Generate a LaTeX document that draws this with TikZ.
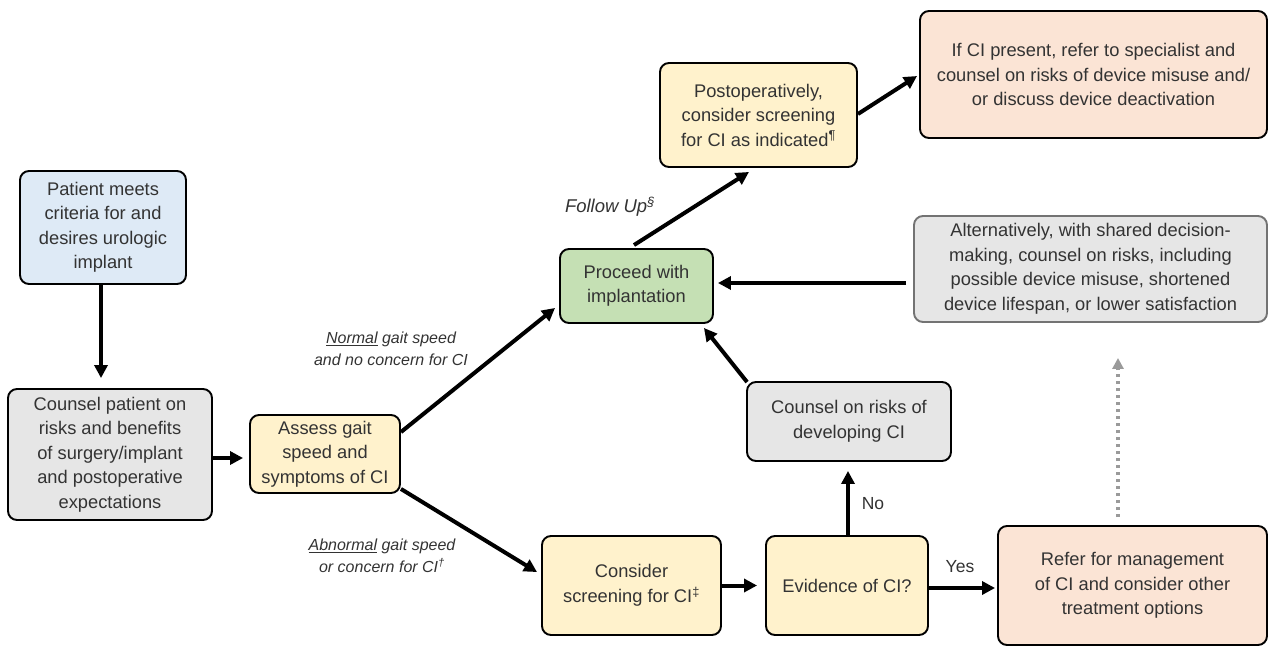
\documentclass[tikz,border=0pt]{standalone}
\usepackage{fontspec}
\setmainfont{Liberation Sans}
\usetikzlibrary{arrows.meta,calc}
\definecolor{txt}{HTML}{333333}
\definecolor{cblue}{HTML}{DEEAF6}
\definecolor{cgray}{HTML}{E6E6E6}
\definecolor{cyellow}{HTML}{FFF2CC}
\definecolor{cgreen}{HTML}{C5E0B4}
\definecolor{cpeach}{HTML}{FBE4D5}
\definecolor{dotgray}{HTML}{9A9A9A}
\begin{document}
\begin{tikzpicture}[x=1pt,y=-1pt,
  box/.style={draw=black, line width=1.9pt, rounded corners=9pt, inner sep=0pt,
    align=center, text=txt, font=\fontsize{18.3}{24.5}\selectfont},
  conn/.style={line width=4pt, -{Triangle[length=13pt,width=13pt]}},
  dotconn/.style={draw=dotgray, line width=3.5pt, dash pattern=on 3.5pt off 3.5pt,
    -{Triangle[length=11pt,width=11pt]}, dotgray},
  lbl/.style={text=txt, align=center, font=\fontsize{16}{22}\selectfont\itshape},
  yn/.style={text=txt, font=\fontsize{17.5}{22}\selectfont}
]
\useasboundingbox (0,0) rectangle (1268,645);

\node[box, fill=cblue, minimum width=166pt, minimum height=113pt] (patient) at (103,227.5)
  {Patient meets\\criteria for and\\desires urologic\\implant};
\node[box, fill=cgray, minimum width=204pt, minimum height=131pt] (counsel) at (110,454.5)
  {Counsel patient on\\risks and benefits\\of surgery/implant\\and postoperative\\expectations};
\node[box, fill=cyellow, minimum width=150pt, minimum height=78pt] (assess) at (325,454)
  {Assess gait\\speed and\\symptoms of CI};
\node[box, fill=cgreen, minimum width=153pt, minimum height=74pt] (proceed) at (636.5,286)
  {Proceed with\\implantation};
\node[box, fill=cyellow, minimum width=179pt, minimum height=99pt] (consider) at (631.5,585.5)
  {Consider\\screening for CI\textsuperscript{‡}};
\node[box, fill=cyellow, minimum width=162pt, minimum height=99pt] (evidence) at (847,585.5)
  {Evidence of CI?};
\node[box, fill=cgray, minimum width=204pt, minimum height=79pt] (cdev) at (849,421.5)
  {Counsel on risks of\\developing CI};
\node[box, fill=cpeach, minimum width=269pt, minimum height=119pt] (refer) at (1132.5,585.5)
  {Refer for management\\of CI and consider other\\treatment options};
\node[box, fill=cyellow, minimum width=197pt, minimum height=104pt] (postop) at (758.5,115)
  {Postoperatively,\\consider screening\\for CI as indicated\textsuperscript{¶}};
\node[box, fill=cpeach, minimum width=347pt, minimum height=127pt] (ifci) at (1093.5,74.5)
  {If CI present, refer to specialist and\\counsel on risks of device misuse and/\\or discuss device deactivation};
\node[box, fill=cgray, draw=black!55, minimum width=353pt, minimum height=106pt] (alt) at (1090.5,269)
  {Alternatively, with shared decision-\\making, counsel on risks, including\\possible device misuse, shortened\\device lifespan, or lower satisfaction};

% labels
\node[lbl] (lnormal) at (391,349) {\underline{Normal} gait speed\\and no concern for CI};
\node[lbl] (labnormal) at (382,556) {\underline{Abnormal} gait speed\\or concern for CI\textsuperscript{†}};
\node[lbl, font=\fontsize{18.5}{22}\selectfont\itshape] (lfollow) at (610,207) {Follow Up\textsuperscript{§}};
\node[yn] (lno) at (873,504) {No};
\node[yn] (lyes) at (960,567) {Yes};

% connectors
\draw[conn, shorten >=10pt] ($(patient.south)+(-2,0)$) -- ($(patient.south |- counsel.north)+(-2,0)$);
\draw[conn, shorten >=6pt] ($(counsel.east)+(0,3.5)$) -- ($(assess.west)+(0,4)$);
\draw[conn] ($(assess.north east)+(0,18)$) -- ($(proceed.south west)+(-4,-16)$);
\draw[conn] ($(assess.south east)+(0,-5)$) -- ($(consider.north west)+(-4,37)$);
\draw[conn, shorten >=8pt] (consider.east) -- (evidence.west);
\draw[conn, shorten >=9pt] ($(evidence.north)+(1,0)$) -- ($(cdev.south)+(-1,0)$);
\draw[conn, shorten >=2pt] ($(evidence.east)+(0,2.5)$) -- ($(refer.west)+(0,2.5)$);
\draw[dotconn] ($(refer.north)+(-14.5,-8)$) -- ($(alt.south)+(27.5,35)$);
\draw[conn] ($(cdev.north west)+(1,1)$) -- ($(proceed.south east)+(-10,4)$);
\draw[conn] ($(alt.west)+(-7,14)$) -- ($(proceed.east)+(4,-3)$);
\draw[conn] ($(proceed.north)+(-2.5,-3)$) -- ($(postop.south)+(-9.5,4)$);
\draw[conn] ($(postop.east)+(0,-1)$) -- ($(ifci.west)+(-2,1.5)$);
\end{tikzpicture}
\end{document}
